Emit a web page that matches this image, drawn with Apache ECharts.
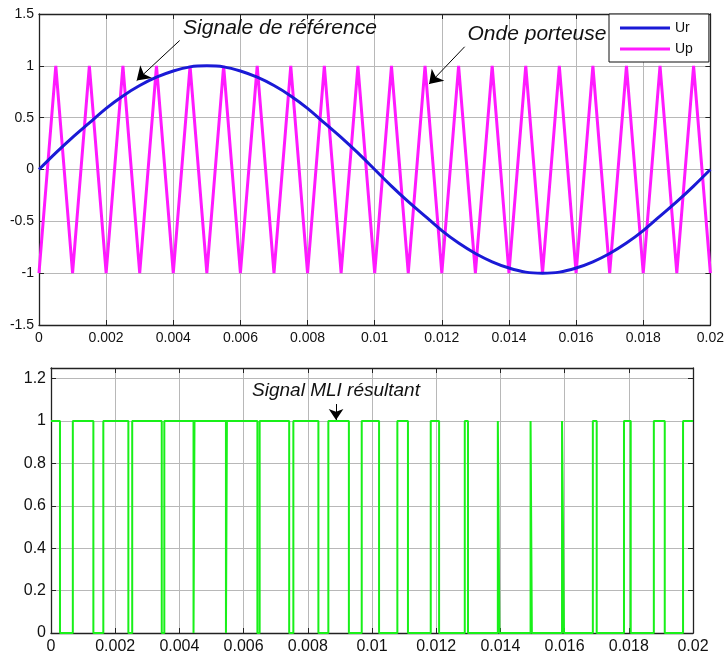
<!DOCTYPE html>
<html><head><meta charset="utf-8">
<script src="https://cdn.jsdelivr.net/npm/echarts@6/dist/echarts.min.js"></script>
<style>html,body{margin:0;padding:0;background:#fff}#c{width:727px;height:655px}</style>
</head><body><div id="c"></div><script>
// ---- data ----
const timeSamples = [0,0.0005,0.001,0.0015,0.002,0.0025,0.003,0.0035,0.004,0.0045,0.005,0.0055,0.006,0.0065,0.007,0.0075,0.008,0.0085,0.009,0.0095,0.01,0.0105,0.011,0.0115,0.012,0.0125,0.013,0.0135,0.014,0.0145,0.015,0.0155,0.016,0.0165,0.017,0.0175,0.018,0.0185,0.019,0.0195,0.02];
const urValues = [0,0.16,0.31,0.45,0.59,0.71,0.81,0.89,0.95,0.99,1.00,0.99,0.95,0.89,0.81,0.71,0.59,0.45,0.31,0.16,0,-0.16,-0.31,-0.45,-0.59,-0.71,-0.81,-0.89,-0.95,-0.99,-1.00,-0.99,-0.95,-0.89,-0.81,-0.71,-0.59,-0.45,-0.31,-0.16,0];
const upValues = [-1,1,-1,1,-1,1,-1,1,-1,1,-1,1,-1,1,-1,1,-1,1,-1,1,-1,1,-1,1,-1,1,-1,1,-1,1,-1,1,-1,1,-1,1,-1,1,-1,1,-1];
const pwmSwitchTimes = [0,0.00028,0.00068,0.00132,0.00163,0.00241,0.00253,0.00345,0.00353,0.00444,0.00447,0.00545,0.00548,0.00643,0.00650,0.00742,0.00755,0.00833,0.00864,0.00928,0.00968,0.01022,0.01079,0.01112,0.01183,0.01209,0.01289,0.01299,0.01392,0.01397,0.01494,0.01498,0.01592,0.01598,0.01688,0.01700,0.01785,0.01806,0.01878,0.01912,0.01969,0.02];
const pwmLevels = [1,0,1,0,1,0,1,0,1,0,1,0,1,0,1,0,1,0,1,0,1,0,1,0,1,0,1,0,1,0,1,0,1,0,1,0,1,0,1,0,1,1];
const xTickLabels = ['0','0.002','0.004','0.006','0.008','0.01','0.012','0.014','0.016','0.018','0.02'];
const topYTickLabels = ['-1.5','-1','-0.5','0','0.5','1','1.5'];
const bottomYTickLabels = ['0','0.2','0.4','0.6','0.8','1','1.2'];
const seriesNames = ['Ur','Up','MLI'];
// annotations [x,y] in data units
const refArrow = [[0.00419,1.244],[0.00291,0.858]];
const carrierArrow = [[0.01268,1.184],[0.01162,0.824]];
const pwmArrow = [[0.00888,1.08],[0.00888,1.005]];

// ---- chart ----
const FONT = '"Liberation Sans", Arial, sans-serif';
const urData = timeSamples.map((t,i)=>[t,urValues[i]]);
const upData = timeSamples.map((t,i)=>[t,upValues[i]]);
const pwmData = pwmSwitchTimes.map((t,i)=>[t,pwmLevels[i]]);

function fmtFrom(list){
  return function(v){
    const s = String(+v.toFixed(6));
    return list.indexOf(s) >= 0 ? s : '';
  };
}
const axisLineStyle = {color:'#222', width:1.3};
function mainX(gridIndex, fs){
  return {type:'value', gridIndex, min:0, max:0.02, interval:0.002, position:'bottom',
    axisLine:{show:true, onZero:false, lineStyle:axisLineStyle},
    axisTick:{show:true, inside:true, length:5, lineStyle:{color:'#222'}},
    axisLabel:{color:'#111', fontSize:fs, fontFamily:FONT, margin:6, formatter:fmtFrom(xTickLabels), hideOverlap:false},
    splitLine:{show:true, lineStyle:{color:'#b8b8b8', width:1}}};
}
function frameX(gridIndex){
  return {type:'value', gridIndex, min:0, max:0.02, interval:0.002, position:'top',
    axisLine:{show:true, onZero:false, lineStyle:axisLineStyle},
    axisTick:{show:true, inside:true, length:5, lineStyle:{color:'#222'}},
    axisLabel:{show:false}, splitLine:{show:false}};
}
function mainY(gridIndex, min, max, interval, labels, fs){
  return {type:'value', gridIndex, min, max, interval, position:'left',
    axisLine:{show:true, onZero:false, lineStyle:axisLineStyle},
    axisTick:{show:true, inside:true, length:5, lineStyle:{color:'#222'}},
    axisLabel:{color:'#111', fontSize:fs, fontFamily:FONT, margin:5, formatter:fmtFrom(labels)},
    splitLine:{show:true, lineStyle:{color:'#b8b8b8', width:1}}};
}
function frameY(gridIndex, min, max, interval){
  return {type:'value', gridIndex, min, max, interval, position:'right',
    axisLine:{show:true, onZero:false, lineStyle:axisLineStyle},
    axisTick:{show:true, inside:true, length:5, lineStyle:{color:'#222'}},
    axisLabel:{show:false}, splitLine:{show:false}};
}
const arrowMark = (pts, size) => ({
  silent:true, symbol:['none','arrow'], symbolSize:size,
  lineStyle:{color:'#000', width:1, type:'solid'}, itemStyle:{color:'#000'}, label:{show:false},
  emphasis:{disabled:true}, animation:false,
  data:[[{coord:pts[0]},{coord:pts[1]}]]
});

const chart = echarts.init(document.getElementById('c'), null, {renderer:'canvas'});
chart.setOption({
  animation:false,
  backgroundColor:'#fff',
  grid:[
    {left:39, top:14, width:673, height:311},
    {left:51, top:368, width:642, height:265}
  ],
  xAxis:[mainX(0,14), frameX(0), mainX(1,16), frameX(1)],
  yAxis:[mainY(0,-1.5,1.5,0.5,topYTickLabels,14), frameY(0,-1.5,1.5,0.5),
         mainY(1,0,1.25,0.2,bottomYTickLabels,16), frameY(1,0,1.25,0.2)],
  legend:{data:[seriesNames[0],seriesNames[1]], orient:'vertical', left:609, top:14,
    padding:[7,16,6,11], itemGap:7, itemWidth:50, itemHeight:3, icon:'rect',
    backgroundColor:'#fff', borderColor:'#111', borderWidth:1, borderRadius:0,
    textStyle:{fontSize:14, fontFamily:FONT, color:'#111'}},
  series:[
    {name:seriesNames[1], type:'line', xAxisIndex:0, yAxisIndex:0, data:upData,
      symbol:'none', lineStyle:{color:'#ff1aff', width:3}, itemStyle:{color:'#ff1aff'}, z:2,
      markLine:arrowMark(carrierArrow, 13)},
    {name:seriesNames[0], type:'line', xAxisIndex:0, yAxisIndex:0, data:urData,
      symbol:'none', smooth:0.3, lineStyle:{color:'#1a1ad6', width:3}, itemStyle:{color:'#1a1ad6'}, z:3,
      markLine:arrowMark(refArrow, 13)},
    {name:seriesNames[2], type:'line', xAxisIndex:2, yAxisIndex:2, data:pwmData, step:'end',
      symbol:'none', lineStyle:{color:'#19f019', width:2}, itemStyle:{color:'#19f019'}, z:3,
      markLine:arrowMark(pwmArrow, 11)}
  ],
  graphic:[
    {type:'text', x:280, y:28, style:{text:'Signale de référence', font:'italic 21px '+FONT, fill:'#111', align:'center', verticalAlign:'middle'}, z:10},
    {type:'text', x:537, y:34, style:{text:'Onde porteuse', font:'italic 21px '+FONT, fill:'#111', align:'center', verticalAlign:'middle'}, z:10},
    {type:'text', x:336, y:391, style:{text:'Signal MLI résultant', font:'italic 19px '+FONT, fill:'#111', align:'center', verticalAlign:'middle'}, z:10}
  ]
});
</script></body></html>
